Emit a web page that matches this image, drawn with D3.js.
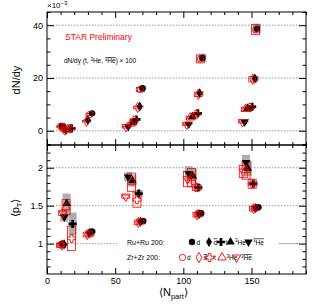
<!DOCTYPE html>
<html>
<head>
<meta charset="utf-8">
<style>
  body { margin: 0; background: #fff; }
  svg { font-family: "Liberation Sans", Arial, sans-serif; }
  .axis .domain { display: none; }
  .axis .tick line { stroke: #000; }
  .axis .tick text { font-size: 9px; fill: #000; }
  .grid { stroke: #999; stroke-dasharray: 1.5,1.5; }
</style>
</head>
<body>
<svg width="316" height="307"></svg>
<script src="https://d3js.org/d3.v7.min.js"></script>
<script>
// ---- data: [Npart, value, sys] ----
// top panel: dN/dy x 1e-3 (t, 3He, anti-3He scaled x100)
const ruYield_d      = [[11, 1.8, 0.2], [33, 6.6, 0.4], [70, 16.1, 0.8], [114, 27.6, 1.6], [154, 38.7, 1.9]];
const ruYield_dbar   = [[13, 1.1, 0.1], [30, 4.0, 0.3], [68, 9.2, 0.5], [112, 14.2, 0.8], [152.5, 19.8, 1.0]];
const ruYield_t      = [[18, 0.9, 0.1], [65.6, 4.3, 0.3], [110.7, 6.6, 0.4], [150.5, 9.1, 0.6]];
const ruYield_he3    = [[16, 0.6, 0.1], [63, 3.0, 0.3], [106.6, 5.3, 0.5], [147, 8.5, 0.7]];
const ruYield_he3bar = [[14, 0.3, 0.1], [59.5, 1.6, 0.2], [104, 2.5, 0.3], [145, 3.4, 0.4]];

const zrYield_d      = [[10, 1.7, 0.2], [31.5, 6.2, 0.4], [68.5, 15.6, 0.8], [112.5, 27.2, 1.5], [153, 38.3, 1.9]];
const zrYield_dbar   = [[12, 1.0, 0.1], [29, 3.6, 0.3], [66.5, 8.8, 0.5], [111, 13.8, 0.8], [151, 19.5, 1.0]];
const zrYield_t      = [[17, 0.8, 0.1], [64, 4.0, 0.3], [109.5, 6.3, 0.4], [149, 8.8, 0.6]];
const zrYield_he3    = [[15, 0.5, 0.1], [61.5, 2.7, 0.3], [105, 5.0, 0.5], [145.5, 8.2, 0.7]];
const zrYield_he3bar = [[13, 0.2, 0.1], [58, 1.4, 0.2], [102.5, 2.3, 0.3], [143.5, 3.3, 0.4]];

// bottom panel: <pT> (GeV/c)
const ruPt_d      = [[11, 1.00, 0.02], [33, 1.16, 0.02], [70.5, 1.30, 0.02], [113, 1.40, 0.02], [155, 1.48, 0.02]];
const ruPt_dbar   = [[12.5, 0.99, 0.02], [31, 1.14, 0.02], [68.5, 1.29, 0.02], [111.5, 1.39, 0.02], [153, 1.47, 0.02]];
const ruPt_t      = [[18.8, 1.26, 0.15], [67.3, 1.66, 0.05], [111, 1.74, 0.04], [151.4, 1.79, 0.04]];
const ruPt_he3    = [[14.4, 1.53, 0.13], [62.7, 1.83, 0.08], [107, 1.89, 0.10], [147.3, 1.99, 0.10]];
const ruPt_he3bar = [[12.7, 1.35, 0.06], [59.5, 1.88, 0.06], [104, 1.92, 0.10], [146, 2.07, 0.10]];

const zrPt_d      = [[10, 0.98, 0.03], [31.5, 1.13, 0.03], [69, 1.29, 0.03], [111.5, 1.39, 0.03], [153, 1.47, 0.03]];
const zrPt_dbar   = [[11, 0.98, 0.03], [29.5, 1.12, 0.03], [67, 1.28, 0.03], [110, 1.38, 0.03], [151.5, 1.46, 0.03]];
const zrPt_t      = [[18, 1.07, 0.16], [66, 1.58, 0.10], [109.5, 1.74, 0.04], [150.5, 1.79, 0.06]];
const zrPt_he3    = [[14, 1.48, 0.10], [62, 1.81, 0.12], [106, 1.87, 0.12], [146, 1.97, 0.12]];
const zrPt_he3bar = [[11.5, 1.40, 0.03], [57.8, 1.62, 0.02], [103, 1.85, 0.10], [144, 1.95, 0.08]];

const xTicksMajor = [0, 50, 100, 150];
const topTicksMajor = [0, 20, 40];
const botTicksMajor = [1, 1.5, 2];

// ---- layout ----
const L = 47, R = 306, T = 12, M = 145, B = 274;
const svg = d3.select("svg");

const x = d3.scaleLinear().domain([0, 190]).range([L, R]);
const yTop = d3.scaleLinear().domain([-5.4, 45]).range([M, T]);
const yBot = d3.scaleLinear().domain([0.6, 2.3]).range([B, M]);

// grid lines
svg.append("g").selectAll("line").data(topTicksMajor).join("line")
  .attr("class", "grid")
  .attr("x1", L).attr("x2", R)
  .attr("y1", d => yTop(d)).attr("y2", d => yTop(d));
svg.append("g").selectAll("line").data(botTicksMajor).join("line")
  .attr("class", "grid")
  .attr("x1", L).attr("x2", R)
  .attr("y1", d => yBot(d)).attr("y2", d => yBot(d));

// legend background hides the grid line at 1
svg.append("rect").attr("x", 117).attr("y", 232).attr("width", 162).attr("height", 33).style("fill", "#fff");

// axes
function addAxis(axis, tx, ty) {
  svg.append("g").attr("class", "axis").attr("transform", `translate(${tx},${ty})`).call(axis);
}
const xMinor = d3.range(0, 191, 10).filter(v => v % 50 !== 0);
const topMinor = d3.range(-5, 46, 5).filter(v => v % 20 !== 0);
const botMinor = d3.range(0.7, 2.31, 0.1).map(v => +v.toFixed(1)).filter(v => v !== 1 && v !== 1.5 && v !== 2);

// top panel
addAxis(d3.axisLeft(yTop).tickValues(topTicksMajor).tickSize(-7).tickPadding(4).tickFormat(d3.format("d")), L, 0);
addAxis(d3.axisLeft(yTop).tickValues(topMinor).tickSize(-3.5).tickFormat(""), L, 0);
addAxis(d3.axisRight(yTop).tickValues(topTicksMajor).tickSize(-7).tickFormat(""), R, 0);
addAxis(d3.axisRight(yTop).tickValues(topMinor).tickSize(-3.5).tickFormat(""), R, 0);
addAxis(d3.axisTop(x).tickValues(xTicksMajor).tickSize(-6).tickFormat(""), 0, T);
addAxis(d3.axisTop(x).tickValues(xMinor).tickSize(-3).tickFormat(""), 0, T);
addAxis(d3.axisBottom(x).tickValues(xTicksMajor).tickSize(-6).tickFormat(""), 0, M);
addAxis(d3.axisBottom(x).tickValues(xMinor).tickSize(-3).tickFormat(""), 0, M);

// bottom panel
addAxis(d3.axisLeft(yBot).tickValues(botTicksMajor).tickSize(-7).tickPadding(4).tickFormat(d => d === 1.5 ? "1.5" : d3.format("d")(d)), L, 0);
addAxis(d3.axisLeft(yBot).tickValues(botMinor).tickSize(-3.5).tickFormat(""), L, 0);
addAxis(d3.axisRight(yBot).tickValues(botTicksMajor).tickSize(-7).tickFormat(""), R, 0);
addAxis(d3.axisRight(yBot).tickValues(botMinor).tickSize(-3.5).tickFormat(""), R, 0);
addAxis(d3.axisTop(x).tickValues(xTicksMajor).tickSize(-6).tickFormat(""), 0, M);
addAxis(d3.axisTop(x).tickValues(xMinor).tickSize(-3).tickFormat(""), 0, M);
addAxis(d3.axisBottom(x).tickValues(xTicksMajor).tickSize(-6).tickPadding(4).tickFormat(d3.format("d")), 0, B);
addAxis(d3.axisBottom(x).tickValues(xMinor).tickSize(-3).tickFormat(""), 0, B);

// frames
svg.append("rect").attr("x", L).attr("y", T).attr("width", R - L).attr("height", M - T)
  .style("fill", "none").style("stroke", "#000");
svg.append("rect").attr("x", L).attr("y", M).attr("width", R - L).attr("height", B - M)
  .style("fill", "none").style("stroke", "#000");

// symbols
const shapes = {
  d: { type: d3.symbolCircle, size: 32, rot: 0 },
  dbar: { type: d3.symbolDiamond, size: 30, rot: 0 },
  t: { type: d3.symbolCross, size: 36, rot: 0 },
  he3: { type: d3.symbolTriangle, size: 32, rot: 0 },
  he3bar: { type: d3.symbolTriangle, size: 32, rot: 180 }
};

function drawSys(data, y, filled) {
  svg.append("g").selectAll("rect").data(data).join("rect")
    .attr("x", d => x(d[0]) - 4)
    .attr("width", 8)
    .attr("y", d => y(d[1] + d[2]))
    .attr("height", d => Math.max(1.5, y(d[1] - d[2]) - y(d[1] + d[2])))
    .style("fill", filled ? "#999" : "none")
    .style("fill-opacity", filled ? 0.8 : 0)
    .style("stroke", filled ? "none" : "#f00")
    .style("stroke-width", 0.8);
}

function drawPts(data, y, kind, filled) {
  const s = shapes[kind];
  svg.append("g").selectAll("path").data(data).join("path")
    .attr("d", d3.symbol().type(s.type).size(s.size))
    .attr("transform", d => `translate(${x(d[0])},${y(d[1])}) rotate(${s.rot})`)
    .style("fill", filled ? "#000" : "none")
    .style("stroke", filled ? "none" : "#f00")
    .style("stroke-width", 0.9);
}

const kinds = ["d", "dbar", "t", "he3", "he3bar"];
const ruTop = [ruYield_d, ruYield_dbar, ruYield_t, ruYield_he3, ruYield_he3bar];
const zrTop = [zrYield_d, zrYield_dbar, zrYield_t, zrYield_he3, zrYield_he3bar];
const ruBot = [ruPt_d, ruPt_dbar, ruPt_t, ruPt_he3, ruPt_he3bar];
const zrBot = [zrPt_d, zrPt_dbar, zrPt_t, zrPt_he3, zrPt_he3bar];

ruTop.forEach(s => drawSys(s, yTop, true));
ruBot.forEach(s => drawSys(s, yBot, true));
zrTop.forEach(s => drawSys(s, yTop, false));
zrBot.forEach(s => drawSys(s, yBot, false));
ruTop.forEach((s, i) => drawPts(s, yTop, kinds[i], true));
ruBot.forEach((s, i) => drawPts(s, yBot, kinds[i], true));
zrTop.forEach((s, i) => drawPts(s, yTop, kinds[i], false));
zrBot.forEach((s, i) => drawPts(s, yBot, kinds[i], false));

// texts
svg.append("text").attr("x", 47).attr("y", 8).style("font-size", "8px").text("×10")
  .append("tspan").attr("dy", -3).style("font-size", "6px").text("−3");

svg.append("text").attr("x", 65).attr("y", 40).style("font-size", "8.5px").style("fill", "#f00")
  .text("STAR Preliminary");

const ann = svg.append("text").attr("x", 64).attr("y", 63).style("font-size", "6.5px");
ann.append("tspan").text("dN/dy (t, ");
ann.append("tspan").attr("dy", -2.5).style("font-size", "4.5px").text("3");
ann.append("tspan").attr("dy", 2.5).text("He, ");
ann.append("tspan").attr("dy", -2.5).style("font-size", "4.5px").text("3");
ann.append("tspan").attr("dy", 2.5).style("text-decoration", "overline").text("He");
ann.append("tspan").text(") × 100");

svg.append("text").attr("transform", "translate(20,80) rotate(-90)")
  .attr("text-anchor", "middle").style("font-size", "11px").text("dN/dy");

const pt = svg.append("text").attr("transform", "translate(19,208) rotate(-90)")
  .attr("text-anchor", "middle").style("font-size", "11px");
pt.append("tspan").text("⟨p");
pt.append("tspan").attr("dy", 3).style("font-size", "7.5px").text("T");
pt.append("tspan").attr("dy", -3).text("⟩");

const xl = svg.append("text").attr("x", 159).attr("y", 296).style("font-size", "11px");
xl.append("tspan").text("⟨N");
xl.append("tspan").attr("dy", 3).style("font-size", "7.5px").text("part");
xl.append("tspan").attr("dy", -3).text("⟩");

// legend
const legendRows = [
  { label: "Ru+Ru 200:", y: 242, filled: true, xs: [192, 209, 221, 230.5, 248.5] },
  { label: "Zr+Zr 200:", y: 257.5, filled: false, xs: [182.5, 199, 209.5, 222, 236.5] }
];
const legendNames = ["d", "d", "t", "He", "He"];

legendRows.forEach(row => {
  svg.append("text").attr("x", 127).attr("y", row.y + 2.5).style("font-size", "7px").text(row.label);
  kinds.forEach((k, i) => {
    const s = shapes[k];
    const lx = row.xs[i];
    svg.append("path")
      .attr("d", d3.symbol().type(s.type).size(s.size)())
      .attr("transform", `translate(${lx},${row.y}) rotate(${s.rot})`)
      .style("fill", row.filled ? "#000" : "none")
      .style("stroke", row.filled ? "none" : "#f00")
      .style("stroke-width", 0.9);
    const t = svg.append("text").attr("x", lx + 4.5).attr("y", row.y + 2.5).style("font-size", "6.5px");
    if (k === "he3" || k === "he3bar") {
      t.append("tspan").attr("dy", -2.5).style("font-size", "4.5px").text("3");
      const he = t.append("tspan").attr("dy", 2.5).text(legendNames[i]);
      if (k === "he3bar") he.style("text-decoration", "overline");
    } else {
      const n = t.append("tspan").text(legendNames[i]);
      if (k === "dbar") n.style("text-decoration", "overline");
    }
  });
});

// dotted line continues to the right of the legend
svg.append("line").attr("class", "grid")
  .attr("x1", 279).attr("x2", R).attr("y1", yBot(1)).attr("y2", yBot(1));
</script>
</body>
</html>
